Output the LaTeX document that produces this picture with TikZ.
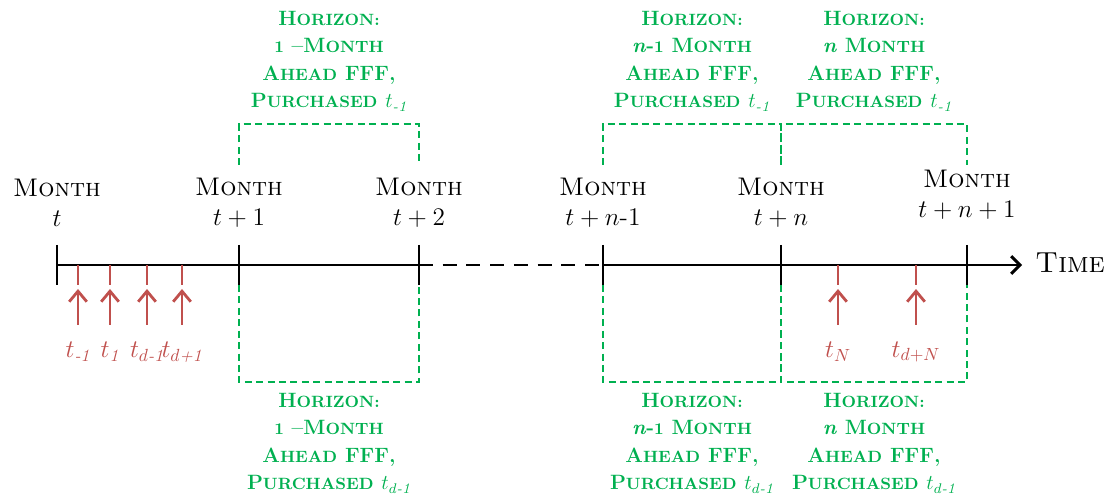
\documentclass[tikz,border=0pt]{standalone}
\usepackage{amsmath}
\usetikzlibrary{arrows.meta,positioning,calc}

\definecolor{fffgreen}{RGB}{0,176,80}
\definecolor{fffred}{RGB}{192,80,77}

% hand-made bold small caps: lower part set smaller
\newcommand{\lo}[1]{{\fontsize{9.3}{10}\selectfont #1}}
\newcommand{\bsc}[2]{#1\lo{#2}}
% light italic subscript text
\newcommand{\sub}[1]{\text{\normalfont\itshape #1}}

\begin{document}
\begin{tikzpicture}[x=0.02cm,y=0.02cm,line width=1.7pt]
	\tikzset{
		month/.style={align=center,font=\fontsize{14.5}{17}\selectfont,inner sep=0pt},
		horizon/.style={fffgreen,dash pattern=on 4pt off 2.5pt,line width=1.4pt},
		horizontext/.style={fffgreen,align=center,font=\fontsize{11.8}{15.7}\selectfont\bfseries,inner sep=0pt},
		purchase/.style={fffred,line width=1.6pt},
		purchlabel/.style={fffred,font=\fontsize{14}{16}\selectfont,inner sep=0pt}
	}
	\useasboundingbox (0,0) rectangle (1107,494);

	% month ticks on the time line
	\foreach \name/\x in {m0/57,m1/239,m2/419,m3/603,m4/781,m5/967}{
		\coordinate (\name) at (\x,229);
		\draw (\x,249) -- (\x,209);
	}
	\coordinate (tend) at (1022,229);
	\node[month,anchor=west,font=\fontsize{16.5}{18}\selectfont] (time) at (1034,231) {\textsc{Time}};

	\draw (m0) -- (m2);
	\draw[dash pattern=on 8pt off 5.5pt] (m2) -- (m3);
	\draw[-{Straight Barb[length=5pt,width=10pt]}] (m3) -- (tend);

	% month labels
	\node[month] (l0) at (57,291)  {\textsc{Month}\\$t$};
	\node[month] (l1) at (239,291) {\textsc{Month}\\$t+1$};
	\node[month] (l2) at (419,291) {\textsc{Month}\\$t+2$};
	\node[month] (l3) at (603,291) {\textsc{Month}\\$t+n$-1};
	\node[month] (l4) at (781,291) {\textsc{Month}\\$t+n$};
	\node[month] (l5) at (967,299) {\textsc{Month}\\$t+n+1$};

	% purchase dates
	\foreach \name/\x/\lab in {p1/78/{$t_{\sub{-1}}$},p2/110/{$t_{\sub{1}}$},
			p3/147/{$t_{d\sub{-1}}$},p4/182/{$t_{d\sub{+1}}$},
			p5/838/{$t_N$},p6/916/{$t_{d+N}$}}{
		\draw[purchase] (\x,229) -- (\x,209);
		\node[purchlabel] (\name) at (\x,142) {\lab};
		\draw[purchase,-{Straight Barb[length=6pt,width=10pt]}] (\name) ++(0,27) -- ++(0,36);
	}

	% horizon brackets
	\foreach \a/\b in {m1/m2,m3/m4,m4/m5}{
		\draw[horizon] (\a) ++(0,100) |- ($(\b)+(0,141)$) -- ++(0,-41);
		\draw[horizon] (\a) ++(0,-20) |- ($(\b)+(0,-117)$) -- ++(0,97);
	}

	% horizon texts
	\node[horizontext] (h1) at (329,433) {\bsc{H}{ORIZON:}\\\lo{1} --\bsc{M}{ONTH}\\\bsc{A}{HEAD} FFF,\\\bsc{P}{URCHASED} $t_{\sub{-1}}$};
	\node[horizontext] (h2) at (692,433) {\bsc{H}{ORIZON:}\\\textit{n}-\lo{1} \bsc{M}{ONTH}\\\bsc{A}{HEAD} FFF,\\\bsc{P}{URCHASED} $t_{\sub{-1}}$};
	\node[horizontext] (h3) at (874,433) {\bsc{H}{ORIZON:}\\\textit{n} \bsc{M}{ONTH}\\\bsc{A}{HEAD} FFF,\\\bsc{P}{URCHASED} $t_{\sub{-1}}$};
	\node[horizontext] (h4) at (329,51) {\bsc{H}{ORIZON:}\\\lo{1} --\bsc{M}{ONTH}\\\bsc{A}{HEAD} FFF,\\\bsc{P}{URCHASED} $t_{d\sub{-1}}$};
	\node[horizontext] (h5) at (692,51) {\bsc{H}{ORIZON:}\\\textit{n}-\lo{1} \bsc{M}{ONTH}\\\bsc{A}{HEAD} FFF,\\\bsc{P}{URCHASED} $t_{d\sub{-1}}$};
	\node[horizontext] (h6) at (874,51) {\bsc{H}{ORIZON:}\\\textit{n} \bsc{M}{ONTH}\\\bsc{A}{HEAD} FFF,\\\bsc{P}{URCHASED} $t_{d\sub{-1}}$};
\end{tikzpicture}
\end{document}
